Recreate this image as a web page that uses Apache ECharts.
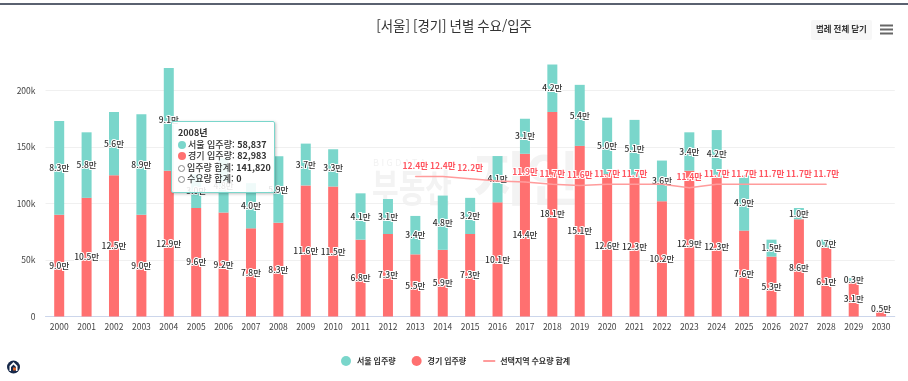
<!DOCTYPE html>
<html lang="ko">
<head>
<meta charset="utf-8">
<style>
html,body{margin:0;padding:0;background:#fff;}
#chart{width:908px;height:381px;}
.tt-row{height:11.5px;line-height:11.5px;white-space:nowrap;}
</style>
<script src="https://cdn.jsdelivr.net/npm/echarts@6/dist/echarts.min.js"></script>
</head>
<body>
<div id="chart"></div>
<script>
var FONT = '"Noto Sans CJK KR","Noto Sans",sans-serif';
var years = ['2000','2001','2002','2003','2004','2005','2006','2007','2008','2009','2010','2011','2012','2013','2014','2015','2016','2017','2018','2019','2020','2021','2022','2023','2024','2025','2026','2027','2028','2029','2030'];
var gyeonggi = [90000,105000,125000,90000,129000,96000,92000,78000,82983,116000,115000,68000,73000,55000,59000,73000,101000,144000,181000,151000,126000,123000,102000,129000,123000,76000,53000,86000,61000,31000,5000];
var seoul = [83000,58000,56000,89000,91000,30000,48000,40000,58837,37000,33000,41000,31000,34000,48000,32000,41000,31000,42000,54000,50000,51000,36000,34000,42000,49000,15000,10000,7000,3000,null];
var demand = [null,null,null,null,null,null,null,null,null,null,null,null,null,124000,124000,122000,120000,119000,117000,116000,117000,117000,117000,114000,117000,117000,117000,117000,117000,null,null];
var hiddenDemandYears = ['2016','2022'];
var tooltipYear = '2008';
var seriesNames = ['서울 입주량','경기 입주량','선택지역 수요량 합계'];

function man(v){ return (v/10000).toFixed(1)+'만'; }
function lbl(){
  return {show:true,position:'inside',color:'#333',fontFamily:FONT,fontSize:8.5,fontWeight:500,textBorderColor:'#fff',textBorderWidth:2,formatter:function(p){return p.value==null?'':man(p.value);}};
}
var gyeonggiData = gyeonggi.map(function(v,i){
  return i===gyeonggi.length-1 ? {value:v,label:{offset:[0,-5]}} : v;
});
var demandData = demand.map(function(v,i){
  return hiddenDemandYears.indexOf(years[i])>=0 ? {value:v,label:{show:false}} : v;
});
function dot(c){return '<i style="display:inline-block;width:8px;height:8px;border-radius:50%;background:'+c+';margin-right:2px;vertical-align:-1px;"></i>';}
function ring(){return '<i style="display:inline-block;width:5px;height:5px;border-radius:50%;border:1.5px solid #888;background:#fff;margin-right:2px;vertical-align:-1px;"></i>';}
function fmt(n){return n.toLocaleString('en-US');}
function row(h){return '<div class="tt-row">'+h+'</div>';}

var chart = echarts.init(document.getElementById('chart'),null,{renderer:'canvas'});
chart.setOption({
  animation:false,
  backgroundColor:'#fff',
  textStyle:{fontFamily:FONT},
  title:{text:'[서울] [경기] 년별 수요/입주',left:'center',top:14,textStyle:{fontFamily:FONT,fontSize:13.4,fontWeight:'normal',color:'#333'}},
  grid:{left:45.5,right:13.2,top:62.25,bottom:64.5},
  legend:{
    left:336,top:351,itemWidth:12,itemHeight:10,itemGap:16,
    textStyle:{fontFamily:FONT,fontSize:8,fontWeight:'bold',color:'#333'},
    data:[{name:seriesNames[0],icon:'circle'},{name:seriesNames[1],icon:'circle'},{name:seriesNames[2],itemStyle:{opacity:0}}]
  },
  tooltip:{
    trigger:'axis',alwaysShowContent:true,transitionDuration:0,
    axisPointer:{type:'none'},
    position:[171,121],
    padding:[5,6,7,6],
    backgroundColor:'rgba(255,255,255,0.88)',
    borderColor:'#7ad6cb',borderWidth:1,
    textStyle:{fontFamily:FONT,fontSize:9,color:'#333'},
    extraCssText:'box-shadow:1px 1px 3px rgba(0,0,0,.25);border-radius:2px;width:104px;box-sizing:border-box;font-weight:500;',
    formatter:function(){
      var i = years.indexOf(tooltipYear);
      var s=seoul[i], g=gyeonggi[i], d=demand[i]||0;
      return row('<b>'+years[i]+'년</b>')+
        row(dot('#7ad6cb')+'서울 입주량: <b>'+fmt(s)+'</b>')+
        row(dot('#ff7070')+'경기 입주량: <b>'+fmt(g)+'</b>')+
        row(ring()+'입주량 합계: <b>'+fmt(s+g)+'</b>')+
        row(ring()+'수요량 합계: <b>'+fmt(d)+'</b>');
    }
  },
  xAxis:{
    type:'category',data:years,
    axisLine:{lineStyle:{color:'#ccd6eb'}},axisTick:{show:false},
    axisLabel:{color:'#444',fontSize:8.5,fontFamily:FONT,margin:6,interval:0}
  },
  yAxis:{
    type:'value',min:0,max:225000,interval:50000,
    axisLine:{show:false},axisTick:{show:false},
    axisLabel:{color:'#444',fontSize:8.5,fontFamily:FONT,margin:10,showMaxLabel:false,formatter:function(v){return v===0?'0':(v/1000)+'k';}},
    splitLine:{showMaxLine:false,lineStyle:{color:'#f0f0f0'}}
  },
  series:[
    {name:seriesNames[1],type:'bar',stack:'t',barWidth:10,data:gyeonggiData,itemStyle:{color:'#ff7070'},label:lbl(),emphasis:{disabled:true},z:2},
    {name:seriesNames[0],type:'bar',stack:'t',barWidth:10,data:seoul,itemStyle:{color:'#7ad6cb'},label:lbl(),emphasis:{disabled:true},z:2},
    {name:seriesNames[2],type:'line',data:demandData,symbol:'circle',symbolSize:1,showSymbol:true,z:4,connectNulls:false,emphasis:{disabled:true},
      lineStyle:{color:'#ff9c9c',width:1.5},itemStyle:{color:'#ff9c9c'},
      label:{show:true,position:'top',distance:6,color:'#ff5560',fontFamily:FONT,fontSize:8.5,fontWeight:'bold',textBorderColor:'#fff',textBorderWidth:2,formatter:function(p){return p.value==null?'':man(p.value);}}
    }
  ],
  graphic:[
    {type:'rect',silent:true,z:10,shape:{x:0,y:3,width:908,height:2},style:{fill:'#5a6170'}},
    {type:'text',silent:true,z:-1,x:373,y:158,style:{text:'B I G D A T A',fill:'#f2f2f2',font:'9px '+FONT}},
    {type:'text',silent:true,z:-1,x:372,y:168,scaleY:1.35,style:{text:'부동산',fill:'#f3f3f3',font:'bold 29px '+FONT}},
    {type:'text',silent:true,z:-1,x:473,y:149,style:{text:'지인',fill:'#f3f3f3',font:'bold 58px '+FONT}},
    {type:'rect',silent:true,z:10,shape:{x:811,y:20,width:61,height:20,r:2},style:{fill:'#f7f7f7'}},
    {type:'text',silent:true,z:11,x:816,y:25,style:{text:'범례 전체 닫기',fill:'#333',font:'bold 8.5px '+FONT}},
    {type:'rect',silent:true,z:11,shape:{x:880,y:24.5,width:13,height:2},style:{fill:'#666'}},
    {type:'rect',silent:true,z:11,shape:{x:880,y:28.5,width:13,height:2},style:{fill:'#666'}},
    {type:'rect',silent:true,z:11,shape:{x:880,y:32.5,width:13,height:2},style:{fill:'#666'}},
    {type:'circle',silent:true,z:11,shape:{cx:13.5,cy:367,r:6.5},style:{fill:'#17294a'}},
    {type:'polygon',silent:true,z:12,shape:{points:[[9.5,371],[9.5,366],[13.5,362],[17.5,366],[17.5,371],[16,371],[16,367],[13.5,364.5],[11,367],[11,371]]},style:{fill:'#fff'}},
    {type:'rect',silent:true,z:12,shape:{x:13,y:367.5,width:3,height:3},style:{fill:'#d9652b'}}
  ]
});
chart.dispatchAction({type:'showTip',seriesIndex:0,dataIndex:years.indexOf(tooltipYear)});
</script>
</body>
</html>
